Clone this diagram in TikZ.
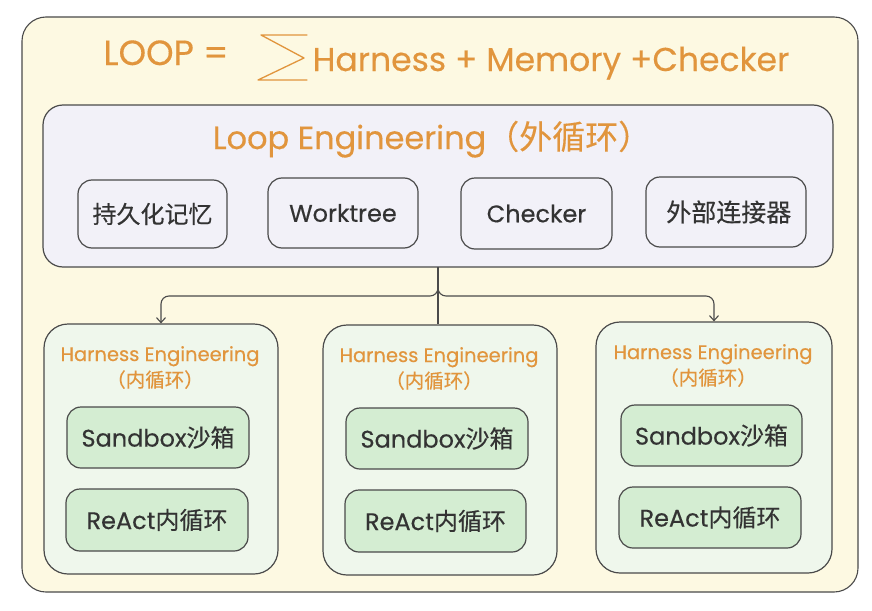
\documentclass[tikz,border=0pt]{standalone}
\usepackage{fontspec}
\setmainfont{Poppins}[FakeBold=0.35]
\newfontfamily\cjk{Noto Sans CJK SC}[FakeBold=0.25]
\usetikzlibrary{arrows.meta}
\definecolor{bgyellow}{HTML}{FDF9E2}
\definecolor{loopfill}{HTML}{F2F1F8}
\definecolor{harnfill}{HTML}{EFF7EC}
\definecolor{greenbox}{HTML}{D4EDD2}
\definecolor{orangetxt}{HTML}{E1953D}
\definecolor{darktxt}{HTML}{333333}
\definecolor{linec}{HTML}{4A4A4A}
\newcommand\myfs[1]{\fontsize{#1}{#1}\selectfont}
\tikzset{
  outerbox/.style={draw=linec, line width=1.1pt, fill=bgyellow, rounded corners=24pt, inner sep=0pt},
  loopbox/.style={draw=linec, line width=1.2pt, fill=loopfill, rounded corners=20pt, inner sep=0pt},
  itembox/.style={draw=linec, line width=1.2pt, fill=loopfill, rounded corners=14pt, inner sep=0pt, text=darktxt, font=\myfs{24}},
  harnbox/.style={draw=linec, line width=1.2pt, fill=harnfill, rounded corners=24pt, inner sep=0pt},
  greenitem/.style={draw=linec, line width=1.2pt, fill=greenbox, rounded corners=14pt, inner sep=0pt, text=darktxt, font=\myfs{24}},
  titletxt/.style={text=orangetxt, inner sep=0pt},
  htitle/.style={text=orangetxt, inner sep=0pt, font=\myfs{19.5}},
  conn/.style={draw=linec, line width=1.1pt, rounded corners=8pt},
  tip/.style={-{Straight Barb[length=5pt,width=9pt,line width=1.1pt]}}
}
\begin{document}
\begin{tikzpicture}[x=1pt,y=-1pt]
\useasboundingbox (0,0) rectangle (872,610);
\fill[white] (0,0) rectangle (872,610);

% outer container
\node[outerbox, minimum width=836pt, minimum height=575pt] (outer) at (440,304.5) {};

% main formula
\node[titletxt, font=\myfs{35}, anchor=base] (loopeq) at (166,65) {LOOP =};
\draw[orangetxt, line width=1.3pt, line join=round, line cap=round]
  (307,35) -- (261,35) -- (304,58) -- (258,80) -- (307,80);
\node[titletxt, font=\myfs{33}, anchor=base] (formula) at (551,71) {Harness + Memory +Checker};

% Loop Engineering box
\node[loopbox, minimum width=790pt, minimum height=162pt] (loop) at (438,186) {};
\node[titletxt, font=\myfs{32}, anchor=base] (looptitle) at (432,149) {Loop Engineering{\cjk\myfs{33}（外循环）}};

\node[itembox, minimum width=149pt, minimum height=68pt] (mem) at (152.5,214) {\cjk 持久化记忆};
\node[itembox, minimum width=150pt, minimum height=70pt] (wt) at (343,213) {Worktree};
\node[itembox, minimum width=151pt, minimum height=71pt] (chk) at (536.5,213.5) {Checker};
\node[itembox, minimum width=160pt, minimum height=70pt] (ext) at (726,212) {\cjk\myfs{25} 外部连接器};

% Harness boxes
\node[harnbox, minimum width=234pt, minimum height=250pt] (h1) at (161,449) {};
\node[harnbox, minimum width=234pt, minimum height=250pt] (h2) at (440,450) {};
\node[harnbox, minimum width=236pt, minimum height=251pt] (h3) at (714,447.5) {};

\node[htitle, anchor=base] (h1t) at (160,361) {Harness Engineering};
\node[htitle, anchor=base] (h1c) at (155,387) {\cjk（内循环）};
\node[htitle, anchor=base] (h2t) at (439,362) {Harness Engineering};
\node[htitle, anchor=base] (h2c) at (434,388) {\cjk（内循环）};
\node[htitle, anchor=base] (h3t) at (713,359) {Harness Engineering};
\node[htitle, anchor=base] (h3c) at (708,385) {\cjk（内循环）};

\node[greenitem, minimum width=182pt, minimum height=61pt] (s1) at (158,437.5) {Sandbox{\cjk 沙箱}};
\node[greenitem, minimum width=182pt, minimum height=62pt] (r1) at (157,520) {ReAct{\cjk 内循环}};
\node[greenitem, minimum width=182pt, minimum height=61pt] (s2) at (437,438.5) {Sandbox{\cjk 沙箱}};
\node[greenitem, minimum width=181pt, minimum height=62pt] (r2) at (435.5,521) {ReAct{\cjk 内循环}};
\node[greenitem, minimum width=181pt, minimum height=61pt] (s3) at (711.5,435.5) {Sandbox{\cjk 沙箱}};
\node[greenitem, minimum width=182pt, minimum height=61pt] (r3) at (710,517.5) {ReAct{\cjk 内循环}};

% connectors
\coordinate (stem) at (438,267);
\coordinate (jn) at (438,296);
\draw[conn, tip] (stem) -- (jn) -- (jn -| h1.north) -- (h1.north);
\draw[conn, tip] (stem) -- (jn) -- (jn -| h3.north) -- (h3.north);
\draw[conn] (stem) -- (stem |- h2.north);
\end{tikzpicture}
\end{document}
